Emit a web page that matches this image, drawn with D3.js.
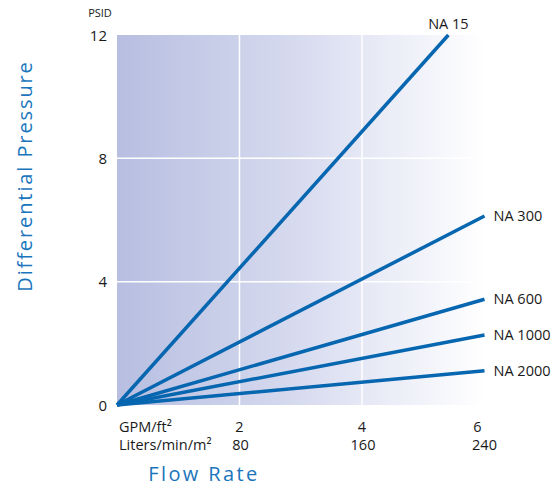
<!DOCTYPE html>
<html>
<head>
<meta charset="utf-8">
<script src="https://cdn.jsdelivr.net/npm/d3@7"></script>
<style>
  body { margin: 0; background: #fff; }
  text { font-family: "Open Sans", "Noto Sans", sans-serif; }
</style>
</head>
<body>
<div id="chart"></div>
<script>
// filter models and the pressure drop read at the end of each line
let models = ["NA 15", "NA 300", "NA 600", "NA 1000", "NA 2000"]
let endFlow = [5.41, 6, 6, 6, 6]
let endPressure = [12, 6.13, 3.43, 2.27, 1.11]

let yTicks = [0, 4, 8, 12]
let xTicks = [2, 4, 6]
let litersTicks = ["80", "160", "240"]

let width = 558, height = 486
let margin = {top: 35, right: 74, bottom: 81, left: 117}

let svg = d3.select("#chart").append("svg")
    .attr("width", width)
    .attr("height", height)

let x = d3.scaleLinear()
    .domain([0, 6])
    .range([margin.left, width - margin.right + 0.5])

let y = d3.scaleLinear()
    .domain([0, 12])
    .range([height - margin.bottom, margin.top])

// background fade
let grad = svg.append("defs").append("linearGradient")
    .attr("id", "bg")
    .attr("x1", "0%").attr("x2", "100%")
grad.append("stop").attr("offset", "0%").attr("stop-color", "#b7bee0")
grad.append("stop").attr("offset", "45%").attr("stop-color", "#d4d8ee")
grad.append("stop").attr("offset", "100%").attr("stop-color", "#ffffff")

svg.append("rect")
    .attr("x", x(0))
    .attr("y", y(12))
    .attr("width", x(6) - x(0))
    .attr("height", y(0) - y(12))
    .attr("fill", "url(#bg)")

// white grid
svg.append("g")
    .selectAll("line")
    .data(xTicks.slice(0, 2))
    .join("line")
    .attr("x1", d => x(d)).attr("x2", d => x(d))
    .attr("y1", y(12)).attr("y2", y(0))
    .attr("stroke", "#fff")
    .attr("stroke-width", 1.5)

svg.append("g")
    .selectAll("line")
    .data([4, 8])
    .join("line")
    .attr("x1", x(0)).attr("x2", x(6) - 12)
    .attr("y1", d => y(d)).attr("y2", d => y(d))
    .attr("stroke", "#fff")
    .attr("stroke-width", 1.5)

// lines
svg.append("g")
    .selectAll("line")
    .data(models)
    .join("line")
    .attr("x1", x(0))
    .attr("y1", y(0))
    .attr("x2", (d, i) => x(endFlow[i]))
    .attr("y2", (d, i) => y(endPressure[i]))
    .attr("stroke", "#0666b0")
    .attr("stroke-width", 3.5)

// line labels
svg.append("g")
    .selectAll("text")
    .data(models)
    .join("text")
    .attr("x", (d, i) => i === 0 ? x(endFlow[i]) : x(endFlow[i]) + 9)
    .attr("y", (d, i) => i === 0 ? y(endPressure[i]) - 6 : y(endPressure[i]) + 5)
    .attr("text-anchor", (d, i) => i === 0 ? "middle" : "start")
    .attr("font-size", 14.5)
    .attr("fill", "#1a1a1a")
    .text(d => d)

// y axis labels
svg.append("g")
    .selectAll("text")
    .data(yTicks)
    .join("text")
    .attr("x", x(0) - 10)
    .attr("y", d => y(d) + 5.5)
    .attr("text-anchor", "end")
    .attr("font-size", 15)
    .attr("fill", "#1a1a1a")
    .text(d => d)

svg.append("text")
    .attr("x", 100)
    .attr("y", 17)
    .attr("text-anchor", "middle")
    .attr("font-size", 11)
    .attr("fill", "#1a1a1a")
    .text("PSID")

// x axis labels, two units
let bottom = svg.append("g").attr("font-size", 14.5).attr("fill", "#1a1a1a")
bottom.append("text")
    .attr("x", x(0) + 2).attr("y", 432)
    .text("GPM/ft²")
bottom.append("text")
    .attr("x", x(0) + 2).attr("y", 450)
    .text("Liters/min/m²")

bottom.selectAll(".gpm")
    .data(xTicks)
    .join("text")
    .attr("class", "gpm")
    .attr("x", d => x(d) - (d === 6 ? 7 : 0))
    .attr("y", 432)
    .attr("text-anchor", "middle")
    .text(d => d)

bottom.selectAll(".lpm")
    .data(litersTicks)
    .join("text")
    .attr("class", "lpm")
    .attr("x", (d, i) => x(xTicks[i]) + (i === 2 ? 0 : 1))
    .attr("y", 450)
    .attr("text-anchor", "middle")
    .text(d => d)

// axis titles
svg.append("text")
    .attr("x", 204)
    .attr("y", 481)
    .attr("text-anchor", "middle")
    .attr("font-size", 20)
    .attr("letter-spacing", 2.4)
    .attr("fill", "#1a75bc")
    .text("Flow Rate")

svg.append("text")
    .attr("transform", "translate(32,176) rotate(-90)")
    .attr("text-anchor", "middle")
    .attr("font-size", 20)
    .attr("letter-spacing", 1.9)
    .attr("fill", "#1a75bc")
    .text("Differential Pressure")
</script>
</body>
</html>
